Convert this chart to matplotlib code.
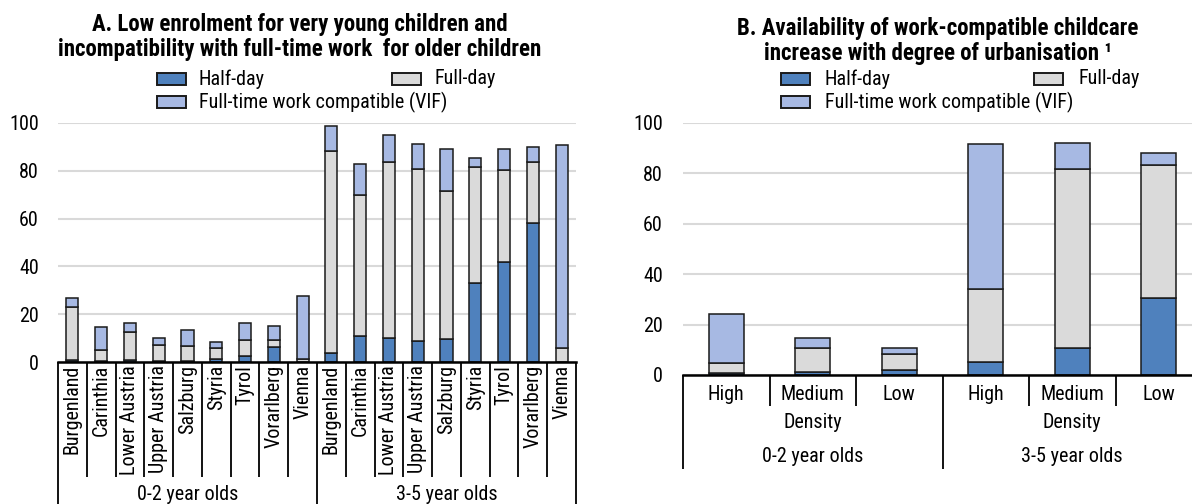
import matplotlib
matplotlib.use("Agg")
import matplotlib.pyplot as plt
from matplotlib.patches import Rectangle
from matplotlib import font_manager
import matplotlib.transforms as mtransforms
import numpy as np

names = {f.name for f in font_manager.fontManager.ttflist}
fam = 'Roboto Condensed' if 'Roboto Condensed' in names else 'Liberation Sans'
plt.rcParams['font.family'] = [fam, 'DejaVu Sans']

# ---------------- data ----------------
regions = ["Burgenland", "Carinthia", "Lower Austria", "Upper Austria", "Salzburg",
           "Styria", "Tyrol", "Vorarlberg", "Vienna"]
groups = ["0-2 year olds", "3-5 year olds"]
series_names = ["Half-day", "Full-day", "Full-time work compatible (VIF)"]

a_half_02 = [1.0, 0.3, 1.0, 0.4, 0.6, 1.4, 2.5, 6.3, 0.2]
a_full_02 = [22.1, 4.6, 11.6, 6.9, 6.1, 4.3, 6.6, 2.8, 1.2]
a_vif_02 = [3.5, 9.8, 3.9, 2.8, 6.6, 2.8, 7.3, 6.0, 26.4]
a_half_35 = [3.8, 10.9, 10.2, 8.8, 9.5, 33.1, 41.7, 58.3, 0.1]
a_full_35 = [84.6, 59.0, 73.4, 72.0, 62.2, 48.6, 38.6, 25.5, 5.9]
a_vif_35 = [10.2, 13.0, 11.4, 10.4, 17.3, 3.5, 8.9, 6.0, 84.9]

densities = ["High", "Medium", "Low"]
density_label = "Density"
b_half_02 = [0.8, 1.1, 1.8]
b_full_02 = [3.8, 9.6, 6.7]
b_vif_02 = [19.8, 4.0, 2.2]
b_half_35 = [5.3, 10.8, 30.4]
b_full_35 = [28.9, 71.1, 53.1]
b_vif_35 = [57.6, 10.2, 4.5]

yticks = [0, 20, 40, 60, 80, 100]

title_a = "A. Low enrolment for very young children and\nincompatibility with full-time work  for older children"
title_b = "B. Availability of work-compatible childcare\nincrease with degree of urbanisation \u00b9"

# ---------------- style ----------------
C_HALF = "#4F81BD"
C_FULL = "#DADADA"
C_VIF = "#A7B9E3"
EDGE = "#1a1a1a"
GRID = "#D9D9D9"
W, H = 1192, 504
FS = 14.5
TFS = 16.5
PX = 0.72  # points per pixel at 100 dpi

fig = plt.figure(figsize=(W / 100, H / 100), dpi=100)


def fx(x):
    return x / W


def fy(y):
    return 1 - y / H


def px_axes(x0, x1, y_top, y_bot):
    return fig.add_axes([x0 / W, (H - y_bot) / H, (x1 - x0) / W, (y_bot - y_top) / H])


def stacked(ax, half, full, vif, width):
    x = np.arange(len(half))
    half = np.array(half); full = np.array(full); vif = np.array(vif)
    kw = dict(width=width, edgecolor=EDGE, linewidth=1.1, zorder=3)
    ax.bar(x, half, color=C_HALF, **kw)
    ax.bar(x, full, bottom=half, color=C_FULL, **kw)
    ax.bar(x, vif, bottom=half + full, color=C_VIF, **kw)


def base_style(ax, n, pad_px):
    ax.set_ylim(0, 100)
    ax.set_xlim(-0.5, n - 0.5)
    ax.set_yticks(yticks)
    ax.tick_params(axis='y', length=0, pad=pad_px * PX, labelsize=FS)
    ax.set_xticks([])
    for s in ["top", "right", "left"]:
        ax.spines[s].set_visible(False)
    ax.spines["bottom"].set_linewidth(1.8)
    ax.spines["bottom"].set_zorder(5)
    ax.grid(axis='y', color=GRID, linewidth=1.5, zorder=0)
    ax.set_axisbelow(True)


# ---------------- Panel A ----------------
A_TOP, A_BOT = 123, 362
axA = px_axes(58, 576, A_TOP, A_BOT)
hA = A_BOT - A_TOP
stacked(axA, a_half_02 + a_half_35, a_full_02 + a_full_35, a_vif_02 + a_vif_35, 0.42)
base_style(axA, 18, 19)
trA = mtransforms.blended_transform_factory(axA.transData, axA.transAxes)
for i, lab in enumerate(regions + regions):
    axA.text(i, -3 / hA, lab, rotation=90, ha='center', va='top', fontsize=FS,
             transform=trA)
for i in range(19):
    xb = i - 0.5
    yend = (504 - A_BOT) if i in (0, 9, 18) else (477 - A_BOT)
    axA.plot([xb, xb], [0, -yend / hA], color='black', lw=1.3, transform=trA,
             clip_on=False, solid_capstyle='butt')
for g, gx in zip(groups, [4, 13]):
    axA.text(gx, -(494 - A_BOT) / hA, g, ha='center', va='center', fontsize=FS, transform=trA)

# ---------------- Panel B ----------------
B_TOP, B_BOT = 123, 375
axB = px_axes(683, 1202, B_TOP, B_BOT)
hB = B_BOT - B_TOP
stacked(axB, b_half_02 + b_half_35, b_full_02 + b_full_35, b_vif_02 + b_vif_35, 0.40)
base_style(axB, 6, 20)
trB = mtransforms.blended_transform_factory(axB.transData, axB.transAxes)
for i, lab in enumerate(densities + densities):
    axB.text(i, -(394 - B_BOT) / hB, lab, ha='center', va='center', fontsize=FS, transform=trB)
for i in range(7):
    xb = i - 0.5
    yend = (469 - B_BOT) if i in (0, 3, 6) else (406 - B_BOT)
    axB.plot([xb, xb], [0, -yend / hB], color='black', lw=1.3, transform=trB,
             clip_on=False, solid_capstyle='butt')
for gx in [1, 4]:
    axB.text(gx, -(423 - B_BOT) / hB, density_label, ha='center', va='center', fontsize=FS, transform=trB)
for g, gx in zip(groups, [1, 4]):
    axB.text(gx, -(457 - B_BOT) / hB, g, ha='center', va='center', fontsize=FS, transform=trB)

# ---------------- titles ----------------
fig.text(fx(300), fy(37), title_a, ha='center', va='center', fontsize=TFS,
         fontweight='bold', linespacing=1.1)
fig.text(fx(938), fy(41), title_b, ha='center', va='center', fontsize=TFS,
         fontweight='bold', linespacing=1.1)

# ---------------- legends (drawn manually to match layout) ----------------
def legend_item(x_patch, y_center, color, label, text_gap=13):
    pw, ph = 29, 11
    fig.add_artist(Rectangle((fx(x_patch), fy(y_center + ph / 2)), pw / W, ph / H,
                             transform=fig.transFigure, facecolor=color,
                             edgecolor=EDGE, linewidth=1.4))
    fig.text(fx(x_patch + pw + text_gap), fy(y_center), label, ha='left', va='center',
             fontsize=FS)


colors = [C_HALF, C_FULL, C_VIF]
for (x1, x2, gap) in [(157, 392, 13), (781, 1034, 15)]:
    legend_item(x1, 79, colors[0], series_names[0], gap)
    legend_item(x2, 79, colors[1], series_names[1], gap)
    legend_item(x1, 102, colors[2], series_names[2], gap)

fig.savefig("out.png", dpi=100)
